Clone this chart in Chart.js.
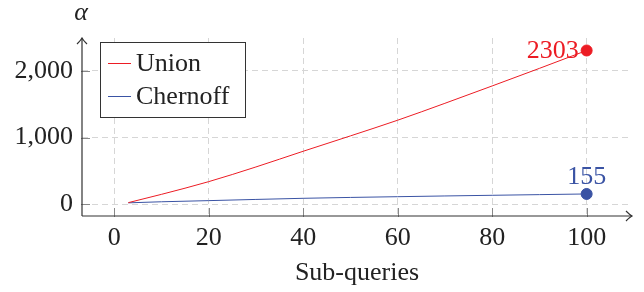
<!DOCTYPE html>
<html>
<head>
<meta charset="utf-8">
<script src="https://cdn.jsdelivr.net/npm/chart.js@4"></script>
<style>
  html, body { margin: 0; padding: 0; background: #fff; }
  #wrap { width: 644px; height: 292px; }
</style>
</head>
<body>
<div id="wrap"><canvas id="chart" width="644" height="292"></canvas></div>
<script>
// data
const subQueries = [3, 10, 20, 30, 40, 50, 60, 70, 80, 90, 100];
const unionValues = [25, 149, 339, 559, 794, 1024, 1259, 1512, 1772, 2035, 2303];
const chernoffValues = [22, 38, 55, 73, 90, 103, 114, 125, 135, 145, 155];
const xTicks = [0, 20, 40, 60, 80, 100];
const yTicks = [0, 1000, 2000];

const red = "#ec1c24";
const blue = "#3a53a4";
const axisColor = "#333";
const font = "'Liberation Serif', 'DejaVu Serif', serif";
const fontSize = 26;

function lastOnly(n, r) {
  return subQueries.map((_, i) => (i === n - 1 ? r : 0));
}

// axis arrows, tick marks, legend box and end labels
const extras = {
  id: "extras",
  afterDraw(chart) {
    const ctx = chart.ctx;
    const a = chart.chartArea;
    const xs = chart.scales.x;
    const ys = chart.scales.y;
    ctx.save();
    ctx.lineWidth = 1;
    ctx.strokeStyle = "#888";
    // tick marks
    xTicks.forEach(v => {
      const px = Math.round(xs.getPixelForValue(v)) + 0.5;
      ctx.beginPath();
      ctx.moveTo(px, a.bottom - 8);
      ctx.lineTo(px, a.bottom + 1);
      ctx.stroke();
    });
    yTicks.forEach(v => {
      const py = Math.round(ys.getPixelForValue(v)) + 0.5;
      ctx.beginPath();
      ctx.moveTo(a.left - 1, py);
      ctx.lineTo(a.left + 8, py);
      ctx.stroke();
    });
    // axes with arrows
    ctx.strokeStyle = axisColor;
    ctx.lineWidth = 1.2;
    ctx.beginPath();
    ctx.moveTo(a.left, a.bottom);
    ctx.lineTo(a.right, a.bottom);
    ctx.moveTo(a.left, a.bottom);
    ctx.lineTo(a.left, a.top);
    ctx.stroke();
    ctx.beginPath();
    ctx.moveTo(a.left - 5, a.top + 6);
    ctx.quadraticCurveTo(a.left - 1, a.top + 2, a.left, a.top);
    ctx.quadraticCurveTo(a.left + 1, a.top + 2, a.left + 5, a.top + 6);
    ctx.moveTo(a.right - 6, a.bottom - 5);
    ctx.quadraticCurveTo(a.right - 2, a.bottom - 1, a.right, a.bottom);
    ctx.quadraticCurveTo(a.right - 2, a.bottom + 1, a.right - 6, a.bottom + 5);
    ctx.stroke();

    // alpha label
    ctx.fillStyle = "#222";
    ctx.font = "italic " + fontSize + "px " + font;
    ctx.textAlign = "center";
    ctx.textBaseline = "alphabetic";
    ctx.fillText("\u03b1", a.left - 1, 20);

    // legend box
    const lx = 100, ly = 42, lw = 145, lh = 75;
    ctx.fillStyle = "#fff";
    ctx.fillRect(lx, ly, lw, lh);
    ctx.strokeStyle = "#333";
    ctx.lineWidth = 1;
    ctx.strokeRect(lx + 0.5, ly + 0.5, lw, lh);
    chart.data.datasets.forEach((ds, i) => {
      const cy = ly + 21 + i * 33;
      ctx.beginPath();
      ctx.strokeStyle = ds.borderColor;
      ctx.moveTo(108, cy + 0.5);
      ctx.lineTo(131, cy + 0.5);
      ctx.stroke();
      ctx.fillStyle = "#222";
      ctx.font = fontSize + "px " + font;
      ctx.textAlign = "left";
      ctx.textBaseline = "middle";
      ctx.fillText(ds.label, 136, cy + 1);
    });

    // end labels
    const n = subQueries.length - 1;
    ctx.font = fontSize + "px " + font;
    ctx.fillStyle = red;
    ctx.textAlign = "right";
    ctx.textBaseline = "middle";
    ctx.fillText(String(unionValues[n]), xs.getPixelForValue(subQueries[n]) - 8, ys.getPixelForValue(unionValues[n]) + 1);
    ctx.fillStyle = blue;
    ctx.textAlign = "center";
    ctx.textBaseline = "alphabetic";
    ctx.fillText(String(chernoffValues[n]), xs.getPixelForValue(subQueries[n]), ys.getPixelForValue(chernoffValues[n]) - 10);
    ctx.restore();
  }
};

const config = {
  type: "line",
  data: {
    datasets: [
      {
        label: "Union",
        data: subQueries.map((x, i) => ({ x: x, y: unionValues[i] })),
        borderColor: red,
        backgroundColor: red,
        borderWidth: 1,
        pointRadius: lastOnly(subQueries.length, 5.5),
        pointHoverRadius: 0,
        cubicInterpolationMode: "monotone"
      },
      {
        label: "Chernoff",
        data: subQueries.map((x, i) => ({ x: x, y: chernoffValues[i] })),
        borderColor: blue,
        backgroundColor: blue,
        borderWidth: 1,
        pointRadius: lastOnly(subQueries.length, 5.5),
        pointHoverRadius: 0,
        cubicInterpolationMode: "monotone"
      }
    ]
  },
  options: {
    responsive: false,
    animation: false,
    events: [],
    layout: { padding: { top: 38, right: 12, left: 0, bottom: 0 } },
    plugins: { legend: { display: false }, tooltip: { enabled: false } },
    scales: {
      x: {
        type: "linear",
        min: -6.8,
        max: 109.6,
        afterBuildTicks: s => { s.ticks = xTicks.map(v => ({ value: v })); },
        afterFit: s => { s.height = 76; },
        grid: { color: "#d6d6d6", lineWidth: 1, drawTicks: false },
        border: { display: false, dash: [6, 4] },
        ticks: { color: "#222", font: { family: font, size: fontSize }, padding: 7, maxRotation: 0 },
        title: { display: true, text: "Sub-queries", color: "#222", font: { family: font, size: fontSize }, padding: { top: 0, bottom: 3 } }
      },
      y: {
        min: -175,
        max: 2490,
        afterBuildTicks: s => { s.ticks = yTicks.map(v => ({ value: v })); },
        afterFit: s => { s.width = 82; },
        grid: { color: "#d6d6d6", lineWidth: 1, drawTicks: false },
        border: { display: false, dash: [6, 4] },
        ticks: {
          color: "#222",
          font: { family: font, size: fontSize },
          padding: 9,
          callback: v => v.toLocaleString("en-US")
        }
      }
    }
  },
  plugins: [extras]
};

const myChart = new Chart(document.getElementById("chart"), config);
</script>
</body>
</html>
